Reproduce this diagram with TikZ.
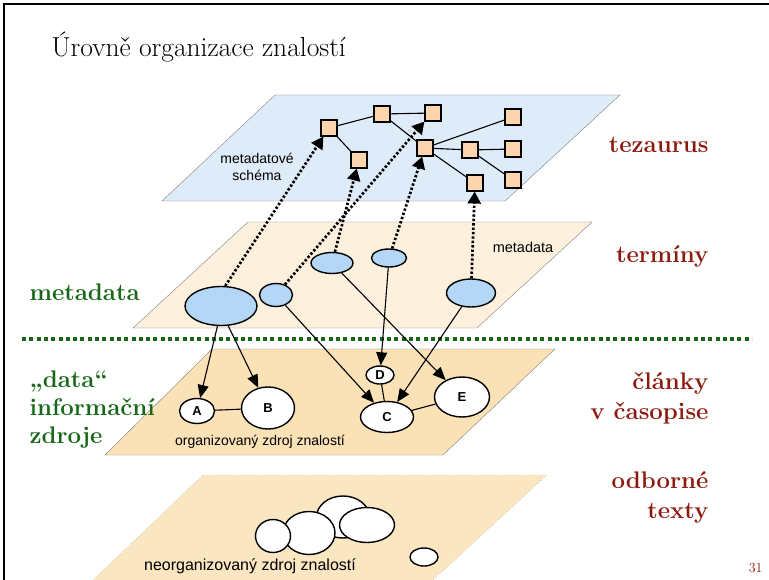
\documentclass[tikz,border=0pt]{standalone}
\usepackage{fontspec}
\newfontfamily\arialfont{Liberation Sans}
\usepackage{tikz}
\usetikzlibrary{shapes.geometric}
\usetikzlibrary{arrows.meta}
\usepackage{xcolor}
\definecolor{tezfill}{RGB}{222,235,248}
\definecolor{metafill}{RGB}{253,241,222}
\definecolor{orgfill}{RGB}{250,225,182}
\definecolor{neofill}{RGB}{251,230,194}
\definecolor{sqfill}{RGB}{252,213,174}
\definecolor{blfill}{RGB}{180,215,247}
\definecolor{titred}{RGB}{140,26,14}
\definecolor{titgreen}{RGB}{22,104,22}

\begin{document}
\begin{tikzpicture}[x=1pt,y=-1pt,
    sq/.style={draw,fill=sqfill,minimum size=16pt,inner sep=0pt,line width=1.1pt},
    bl/.style={draw,ellipse,fill=blfill,inner sep=0pt,line width=1.4pt},
    wh/.style={draw,ellipse,fill=white,inner sep=0pt,line width=1.4pt,font=\arialfont\bfseries\fontsize{13}{15}\selectfont},
    up/.style={line width=2.7pt,dash pattern=on 2.4pt off 2pt,-{Triangle[length=12pt,width=13pt]}},
    down/.style={line width=1.1pt,-{Triangle[length=13pt,width=11pt]}},
    red/.style={text=titred,font=\bfseries\fontsize{24}{30}\selectfont,align=right,anchor=east},
    green/.style={text=titgreen,font=\bfseries\fontsize{24}{28}\selectfont,align=left,anchor=west}]
    \useasboundingbox (0,0) rectangle (769,580);
    % slide frame
    \draw [line width=2pt] (4,580) -- (4,4) -- (769,4);
    \node [anchor=west,font=\fontsize{27.5}{32}\selectfont] (title) at (48,47) {Úrovně organizace znalostí};

    % planes
    \draw [gray,fill=neofill,dotted] (93,580) -- (203,475) -- (547,475) -- (433,580);
    \draw [gray,fill=orgfill] (105,455) -- (212,349) -- (555,349) -- (443,455) -- cycle;
    \draw [gray,fill=metafill] (133,328) -- (248,222) -- (592,222) -- (477,328) -- cycle;
    \draw [gray,fill=tezfill] (162,201) -- (275,95) -- (620,95) -- (505,201) -- cycle;
    \draw [titgreen,line width=3.5pt,dash pattern=on 4pt off 3.3pt] (22,339) -- (752,339);

    % tezaurus
    \node [font=\arialfont\fontsize{14}{17}\selectfont,align=center] (schema) at (257,167) {metadatové\\schéma};
    \node [sq] (s1) at (329,128) {};
    \node [sq] (s2) at (382,114) {};
    \node [sq] (s3) at (433,113) {};
    \node [sq] (s4) at (359,160) {};
    \node [sq] (s5) at (425,148) {};
    \node [sq] (s6) at (513,117) {};
    \node [sq] (s7) at (470,150) {};
    \node [sq] (s8) at (513,149) {};
    \node [sq] (s9) at (513,180) {};
    \node [sq] (s10) at (475,183) {};
    \draw [line width=1.1pt] (s1) -- (s2) -- (s3);
    \draw [line width=1.1pt] (s1) -- (s4);
    \draw [line width=1.1pt] (s2) -- (s5);
    \draw [line width=1.1pt] (s5) -- (s6);
    \draw [line width=1.1pt] (s5) -- (s7) -- (s8);
    \draw [line width=1.1pt] (s7) -- (s9);
    \draw [line width=1.1pt] (s5) -- (s10);

    % metadata
    \node [font=\arialfont\fontsize{14.5}{17}\selectfont] (metalab) at (523,247) {metadata};
    \node [bl,minimum width=72pt,minimum height=39pt] (e1) at (221,306) {};
    \node [bl,minimum width=33pt,minimum height=23pt] (e2) at (276,295) {};
    \node [bl,minimum width=42pt,minimum height=21pt] (e3) at (332,263) {};
    \node [bl,minimum width=35pt,minimum height=18pt] (e4) at (389,258) {};
    \node [bl,minimum width=49pt,minimum height=28pt] (e5) at (471,293) {};

    % organizovany zdroj
    \node [font=\arialfont\fontsize{14}{17}\selectfont] (orglab) at (260,442) {organizovaný zdroj znalostí};
    \node [wh,minimum width=35pt,minimum height=25pt] (a) at (197,411) {A};
    \node [wh,minimum width=53pt,minimum height=42pt] (b) at (268,408) {B};
    \node [wh,minimum width=53pt,minimum height=31pt] (c) at (387,417) {C};
    \node [wh,minimum width=28pt,minimum height=18pt] (d) at (380,375) {D};
    \node [wh,minimum width=55pt,minimum height=40pt] (e) at (462,397) {E};
    \draw [line width=1.1pt] (a) -- (b);
    \draw [line width=1.1pt] (d) -- (c);
    \draw [line width=1.1pt] (c) -- (e);

    % spoje
    \draw [down] (e1.260) -- (a);
    \draw [down] (e1.290) -- (b);
    \draw [down] (e2) -- (c);
    \draw [down] (e4) -- (d);
    \draw [down] (e3) -- (e);
    \draw [down] (e5) -- (c);
    \draw [up] (e1.78) -- (s1);
    \draw [up] (e2) -- (s3.south west);
    \draw [up] (e3) -- (s4);
    \draw [up] (e4) -- (s5);
    \draw [up] (e5) -- (s10);

    % neorganizovany zdroj
    \node [font=\arialfont\fontsize{16}{19}\selectfont] (neolab) at (250,566) {neorganizovaný zdroj znalostí};
    \node [wh,minimum width=53pt,minimum height=42pt] (n3) at (343,517) {};
    \node [wh,minimum width=52pt,minimum height=43pt] (n2) at (309,533) {};
    \node [wh,minimum width=35pt,minimum height=33pt] (n1) at (273,536) {};
    \node [wh,minimum width=55pt,minimum height=35pt] (n4) at (367,525) {};
    \node [wh,minimum width=28pt,minimum height=18pt] (n5) at (424,557) {};

    % popisky
    \node [red] (tez) at (712,145) {tezaurus};
    \node [red] (term) at (712,256) {termíny};
    \node [red] (clanky) at (712,398) {články\\v časopise};
    \node [red] (odb) at (712,497) {odborné\\texty};
    \node [green] (meta) at (26,292) {metadata};
    \node [green] (data) at (26,410) {„data“\\informační\\zdroje};
    \node [anchor=east,text=titred,font=\fontsize{14}{16}\selectfont] (cislo) at (766,568) {31};
\end{tikzpicture}
\end{document}
